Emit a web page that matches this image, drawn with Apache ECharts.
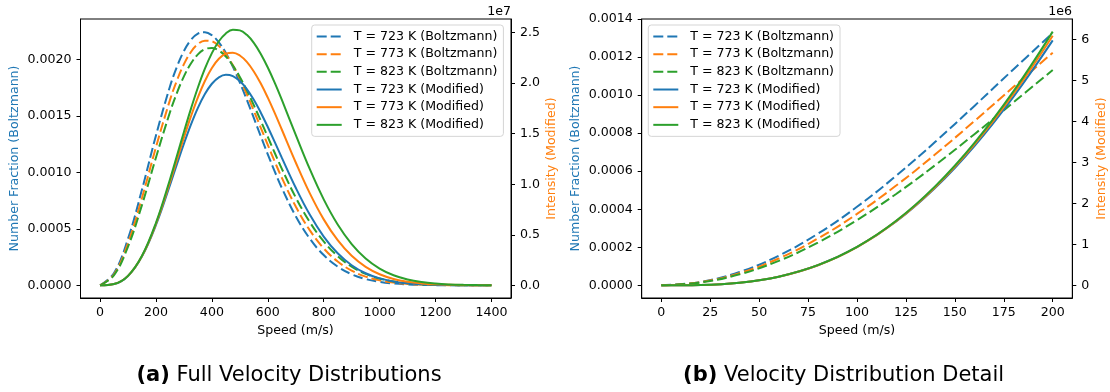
<!DOCTYPE html>
<html><head><meta charset="utf-8">
<script src="https://cdn.jsdelivr.net/npm/echarts@6/dist/echarts.min.js"></script>
<style>html,body{margin:0;padding:0;background:#fff}#c{width:1110px;height:392px}</style>
</head><body><div id="c"></div>
<script>
// ---------- data: full distributions (panel a) ----------
const speedsFull = [0,50,100,150,200,250,275,300,325,350,375,400,425,450,475,500,525,550,575,600,625,650,700,750,800,850,900,950,1000,1050,1100,1150,1200,1250,1300,1350,1400];
const boltz723 = [0,0.000109,0.0004128,0.0008479,0.0013269,0.0017598,0.0019351,0.0020739,0.0021719,0.0022274,0.0022406,0.0022136,0.0021501,0.0020554,0.0019350,0.0017950,0.0016419,0.0014813,0.0013191,0.0011595,0.0010064,0.0008629,0.0006119,0.0004141,0.0002679,0.0001658,0.0000982,0.0000558,0.0000304,0.0000159,0.0000080,0.0000038,0.0000018,0.0000008,0.0000003,0.0000001,0.0000001];
const boltz773 = [0,0.0000987,0.0003752,0.0007752,0.0012231,0.0016394,0.0018139,0.0019572,0.0020649,0.0021346,0.0021656,0.0021592,0.0021178,0.0020454,0.0019467,0.0018267,0.0016913,0.0015454,0.0013944,0.0012428,0.0010944,0.0009526,0.0006973,0.0004884,0.0003276,0.0002108,0.0001301,0.0000772,0.0000440,0.0000241,0.0000127,0.0000065,0.0000032,0.0000015,0.0000007,0.0000003,0.0000001];
const boltz823 = [0,0.0000900,0.0003429,0.0007122,0.0011320,0.0015314,0.0017037,0.0018493,0.0019637,0.0020442,0.0020896,0.0021001,0.0020775,0.0020247,0.0019455,0.0018442,0.0017256,0.0015945,0.0014556,0.0013132,0.0011712,0.0010329,0.0007776,0.0005612,0.0003888,0.0002588,0.0001657,0.0001021,0.0000606,0.0000347,0.0000191,0.0000102,0.0000052,0.0000026,0.0000012,0.0000006,0.0000003];
// modified intensity, units of 1e7
const mod723 = [0,0.0123,0.0930,0.2865,0.5977,0.9908,1.1985,1.4012,1.5898,1.7558,1.8924,1.9942,2.0581,2.0831,2.0700,2.0214,1.9413,1.8350,1.7082,1.5668,1.4167,1.2633,0.9647,0.6996,0.4826,0.3173,0.1991,0.1193,0.0684,0.0375,0.0197,0.0099,0.0048,0.0022,0.0010,0.0004,0.0002];
const mod773 = [0,0.0123,0.0934,0.2895,0.6091,1.0205,1.2420,1.4619,1.6709,1.8602,2.0221,2.1504,2.2410,2.2917,2.3023,2.2741,2.2108,2.1163,1.9963,1.8566,1.7031,1.5416,1.2154,0.9120,0.6525,0.4461,0.2916,0.1826,0.1096,0.0631,0.0348,0.0185,0.0094,0.0046,0.0022,0.0010,0.0004];
const mod823 = [0,0.0123,0.0938,0.2922,0.6193,1.0472,1.2815,1.5175,1.7457,1.9570,2.1433,2.2977,2.4151,2.4922,2.5278,2.5223,2.4780,2.3988,2.2893,2.1552,2.0022,1.8365,1.4889,1.1513,0.8507,0.6017,0.4079,0.2653,0.1658,0.0996,0.0575,0.0320,0.0171,0.0088,0.0044,0.0021,0.0010];

// ---------- data: detail (panel b) ----------
const speedsDetail = [0,20,40,60,80,100,120,140,160,180,200];
const boltzD723 = [0,0.0000177,0.0000702,0.0001557,0.0002712,0.0004128,0.0005757,0.0007544,0.0009432,0.0011360,0.0013269];
const boltzD773 = [0,0.0000160,0.0000636,0.0001411,0.0002461,0.0003752,0.0005243,0.0006887,0.0008635,0.0010434,0.0012231];
const boltzD823 = [0,0.0000146,0.0000579,0.0001286,0.0002246,0.0003429,0.0004801,0.0006320,0.0007944,0.0009626,0.0011320];
// modified intensity, units of 1e6
const modD723 = [0,0.0080,0.0633,0.2104,0.4887,0.9297,1.5558,2.3787,3.3989,4.6054,5.9770];
const modD773 = [0,0.0080,0.0633,0.2108,0.4901,0.9341,1.5664,2.4008,3.4401,4.6763,6.0908];
const modD823 = [0,0.0080,0.0633,0.2111,0.4914,0.9380,1.5758,2.4204,3.4768,4.7395,6.1926];

// ---------- labels / ticks ----------
const seriesNames = ['T = 723 K (Boltzmann)','T = 773 K (Boltzmann)','T = 823 K (Boltzmann)','T = 723 K (Modified)','T = 773 K (Modified)','T = 823 K (Modified)'];
const colors = ['#1f77b4','#ff7f0e','#2ca02c'];
const xTicksA = [0,200,400,600,800,1000,1200,1400];
const yTicksA = [0,0.0005,0.001,0.0015,0.002];
const y2TicksA = [0,0.5,1,1.5,2,2.5];
const xTicksB = [0,25,50,75,100,125,150,175,200];
const yTicksB = [0,0.0002,0.0004,0.0006,0.0008,0.001,0.0012,0.0014];
const y2TicksB = [0,1,2,3,4,5,6];
const xName = 'Speed (m/s)';
const yLeftName = 'Number Fraction (Boltzmann)';
const yRightName = 'Intensity (Modified)';
const captionA = ['(a)',' Full Velocity Distributions'];
const captionB = ['(b)',' Velocity Distribution Detail'];

const FONT = 'DejaVu Sans';
const FS = 12.6;
const chart = echarts.init(document.getElementById('c'), null, {renderer:'canvas'});

function zip(xs, ys){ return xs.map((x,i)=>[x, ys[i]]); }

function valueAxis(gridIndex, pos, min, max, ticks, fmt, margin){
  return {
    type:'value', gridIndex, position:pos, min, max,
    splitLine:{show:false},
    axisLine:{show:true, onZero:false, lineStyle:{color:'#000', width:1}},
    axisTick:{show:true, customValues:ticks, length:4, lineStyle:{color:'#000', width:1}},
    axisLabel:{customValues:ticks, formatter:fmt, color:'#000', fontFamily:FONT, fontSize:FS, margin:margin}
  };
}

function lineSeries(name, data, xi, yi, color, dashed){
  return {
    type:'line', name, data, xAxisIndex:xi, yAxisIndex:yi,
    showSymbol:false, symbol:'none', smooth:0.4, clip:true,
    lineStyle:{color, width:2, type: dashed ? [10,4] : 'solid'},
    itemStyle:{color},
    emphasis:{disabled:true}, silent:true
  };
}

const boltzA = [boltz723, boltz773, boltz823];
const modA = [mod723, mod773, mod823];
const boltzB = [boltzD723, boltzD773, boltzD823];
const modB = [modD723, modD773, modD823];

const series = [];
for (let i=0;i<3;i++) series.push(lineSeries(seriesNames[i], zip(speedsFull, boltzA[i]), 0, 0, colors[i], true));
for (let i=0;i<3;i++) series.push(lineSeries(seriesNames[i+3], zip(speedsFull, modA[i]), 0, 1, colors[i], false));
for (let i=0;i<3;i++) series.push(lineSeries(seriesNames[i], zip(speedsDetail, boltzB[i]), 1, 2, colors[i], true));
for (let i=0;i<3;i++) series.push(lineSeries(seriesNames[i+3], zip(speedsDetail, modB[i]), 1, 3, colors[i], false));

function legend(left){
  return {
    show:true, orient:'vertical', left, top:25,
    data: seriesNames,
    itemWidth:25, itemHeight:14, itemGap:4.67,
    padding:[5,6,5,4],
    backgroundColor:'rgba(255,255,255,0.8)',
    borderColor:'#d5d5d5', borderWidth:1, borderRadius:3,
    itemStyle:{opacity:0},
    textStyle:{color:'#000', fontFamily:FONT, fontSize:FS, padding:[0,0,0,7]},
    selectedMode:false
  };
}

function txt(x, y, text, opts){
  return Object.assign({type:'text', x, y, silent:true, style:Object.assign({
    text, fill:'#000', font: FS + 'px "' + FONT + '"', align:'center', verticalAlign:'middle'
  }, opts && opts.style || {})}, opts && opts.el || {});
}

const capFont = '"DejaVu Sans", sans-serif';
const CAPFS = 21;
function caption(x, parts){
  return {type:'text', x, y:376, silent:true, style:{
    text:'{b|' + parts[0] + '}{n|' + parts[1] + '}', align:'center', verticalAlign:'middle',
    rich:{b:{fontWeight:'bold', fontSize:CAPFS, fontFamily:capFont, fill:'#000'},
          n:{fontSize:CAPFS, fontFamily:capFont, fill:'#000'}}
  }};
}
const graphic = [
  txt(511, 12, '1e7', {style:{align:'right'}}),
  txt(1072, 12, '1e6', {style:{align:'right'}}),
  txt(295.5, 331, xName),
  txt(857, 331, xName),
  txt(15, 158.5, yLeftName, {style:{fill:'#1f77b4'}, el:{rotation:Math.PI/2}}),
  txt(551.7, 158.5, yRightName, {style:{fill:'#ff7f0e'}, el:{rotation:Math.PI/2}}),
  txt(575.5, 158.5, yLeftName, {style:{fill:'#1f77b4'}, el:{rotation:Math.PI/2}}),
  txt(1101.7, 158.5, yRightName, {style:{fill:'#ff7f0e'}, el:{rotation:Math.PI/2}}),
  caption(289, captionA),
  caption(843.6, captionB)
];

chart.setOption({
  animation:false,
  backgroundColor:'#fff',
  grid:[
    {left:80.5, top:19, width:430.5, height:279, show:true, borderColor:'#000', borderWidth:1, backgroundColor:'transparent'},
    {left:641.7, top:19, width:430.6, height:279, show:true, borderColor:'#000', borderWidth:1, backgroundColor:'transparent'}
  ],
  xAxis:[
    valueAxis(0,'bottom',-70,1470,xTicksA,v=>String(v),8),
    valueAxis(1,'bottom',-10,210,xTicksB,v=>String(v),8)
  ],
  yAxis:[
    valueAxis(0,'left',-0.000112,0.002357,yTicksA,v=>v.toFixed(4),9),
    valueAxis(0,'right',-0.1255,2.635,y2TicksA,v=>v.toFixed(1),9),
    valueAxis(1,'left',-0.0000667,0.0014,yTicksB,v=>v.toFixed(4),9),
    valueAxis(1,'right',-0.31,6.5,y2TicksB,v=>String(Math.round(v)),9)
  ],
  legend:[legend(311.7), legend(648.3)],
  graphic,
  series
});
</script>
</body></html>
